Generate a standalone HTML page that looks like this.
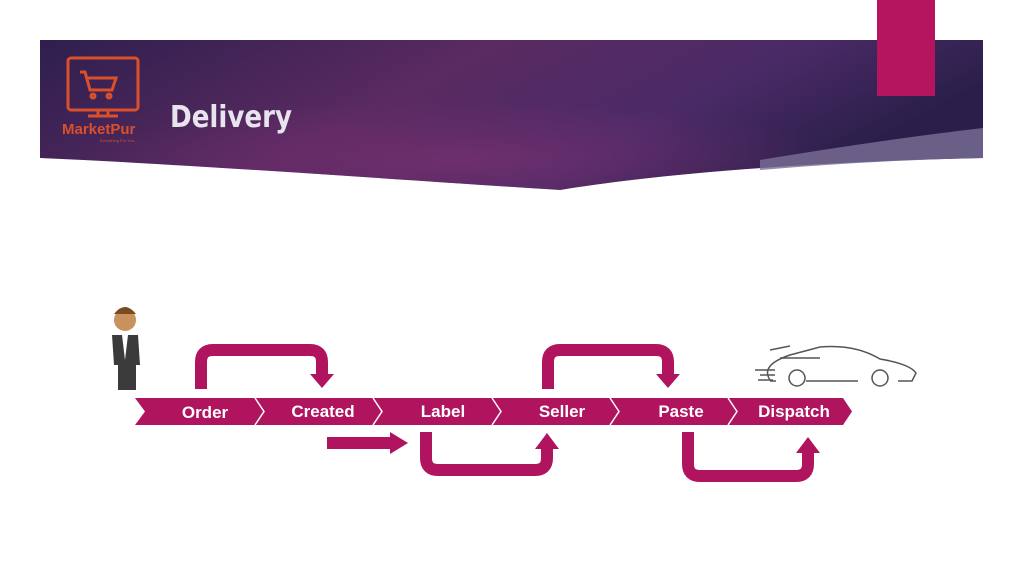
<!DOCTYPE html>
<html><head><style>
body{margin:0;width:1024px;height:576px;background:#fff;overflow:hidden;font-family:"Liberation Sans",sans-serif}
</style></head><body>
<svg width="1024" height="576" viewBox="0 0 1024 576">
<defs>
<linearGradient id="g" x1="0" y1="0" x2="1" y2="0.3">
<stop offset="0" stop-color="#2e1f4e"/><stop offset="0.45" stop-color="#5a2a62"/><stop offset="0.75" stop-color="#4a2a66"/><stop offset="1" stop-color="#2a1f4a"/>
</linearGradient>
<radialGradient id="r" cx="0.45" cy="0.8" r="0.4"><stop offset="0" stop-color="#7a3070" stop-opacity="0.7"/><stop offset="1" stop-color="#7a3070" stop-opacity="0"/></radialGradient>
</defs>
<path d="M40 40 H983 V158 C800 162 650 175 560 190 C400 180 200 165 40 158 Z" fill="url(#g)"/>
<path d="M40 40 H983 V158 C800 162 650 175 560 190 C400 180 200 165 40 158 Z" fill="url(#r)"/>
<path d="M760 160 Q880 140 983 128 V158 Q880 160 760 170 Z" fill="#7b6f96" opacity="0.8"/>
<rect x="877" y="0" width="58" height="96" fill="#b5155f"/>
<!-- logo -->
<g fill="none" stroke="#d9502a" stroke-width="3">
<rect x="68" y="58" width="70" height="52" rx="3"/>
<path d="M80 72 h5 l5 18 h22 l4 -12 h-28"/><circle cx="93" cy="96" r="2"/><circle cx="109" cy="96" r="2"/>
<path d="M98 110 v6 h-10 h30 h-10 v-6"/>
</g>
<text x="62" y="134" font-size="15" font-weight="bold" fill="#d9502a">MarketPur</text>
<text x="100" y="142" font-size="4" fill="#d9502a">Everything For You...</text>
<text x="170" y="127" font-family="DejaVu Sans,sans-serif" font-size="30" font-weight="bold" fill="#e8e4ee" textLength="122" lengthAdjust="spacingAndGlyphs">Delivery</text>
<!-- man -->
<circle cx="125" cy="320" r="11" fill="#c8915e"/>
<path d="M114 314 q11 -14 22 0 z" fill="#7a4a22"/>
<path d="M112 335 h26 l2 30 h-4 v25 h-18 v-25 h-4 z" fill="#3b3b3b"/>
<path d="M122 335 h6 l-3 25 z" fill="#fff"/>
<!-- car -->
<g fill="none" stroke="#555" stroke-width="1.5">
<path d="M770 380 q-10 -15 20 -25 l30 -8 q35 -3 60 12 q30 5 36 14 l-4 8 h-14 m-40 0 h-52 m-30 0 h-6"/>
<circle cx="797" cy="378" r="8"/><circle cx="880" cy="378" r="8"/>
<path d="M770 350 l20 -4 m-10 12 h40"/>
<path d="M755 370 h20 M760 375 h15 M758 380 h15"/>
</g>
<!-- chevron strip -->
<path d="M135 398 H843 L852 411.5 L843 425 H135 L145 411.5 Z" fill="#b0145f"/>
<g fill="none" stroke="#fff" stroke-width="1.5">
<path d="M255 398 l9 13.5 l-9 13.5"/><path d="M373 398 l9 13.5 l-9 13.5"/><path d="M492 398 l9 13.5 l-9 13.5"/><path d="M610 398 l9 13.5 l-9 13.5"/><path d="M728 398 l9 13.5 l-9 13.5"/>
</g>
<g fill="#fff" font-size="17" font-weight="bold" text-anchor="middle">
<text x="205" y="418">Order</text><text x="323" y="417">Created</text><text x="443" y="417">Label</text><text x="562" y="417">Seller</text><text x="681" y="417">Paste</text><text x="794" y="417">Dispatch</text>
</g>
<!-- arrows -->
<g fill="none" stroke="#b0145f" stroke-width="12">
<path d="M201 389 V362 q0 -12 12 -12 H310 q12 0 12 12 V375"/>
<path d="M548 389 V362 q0 -12 12 -12 H656 q12 0 12 12 V375"/>
<path d="M426 432 V458 q0 12 12 12 H535 q12 0 12 -12 V448"/>
<path d="M688 432 V464 q0 12 12 12 H796 q12 0 12 -12 V452"/>
<path d="M327 443 H392"/>
</g>
<g fill="#b0145f">
<path d="M310 374 h24 l-12 14 z"/><path d="M656 374 h24 l-12 14 z"/>
<path d="M535 449 h24 l-12 -16 z"/><path d="M796 453 h24 l-12 -16 z"/>
<path d="M390 432 v22 l18 -11 z"/>
</g>
</svg>
</body></html>
